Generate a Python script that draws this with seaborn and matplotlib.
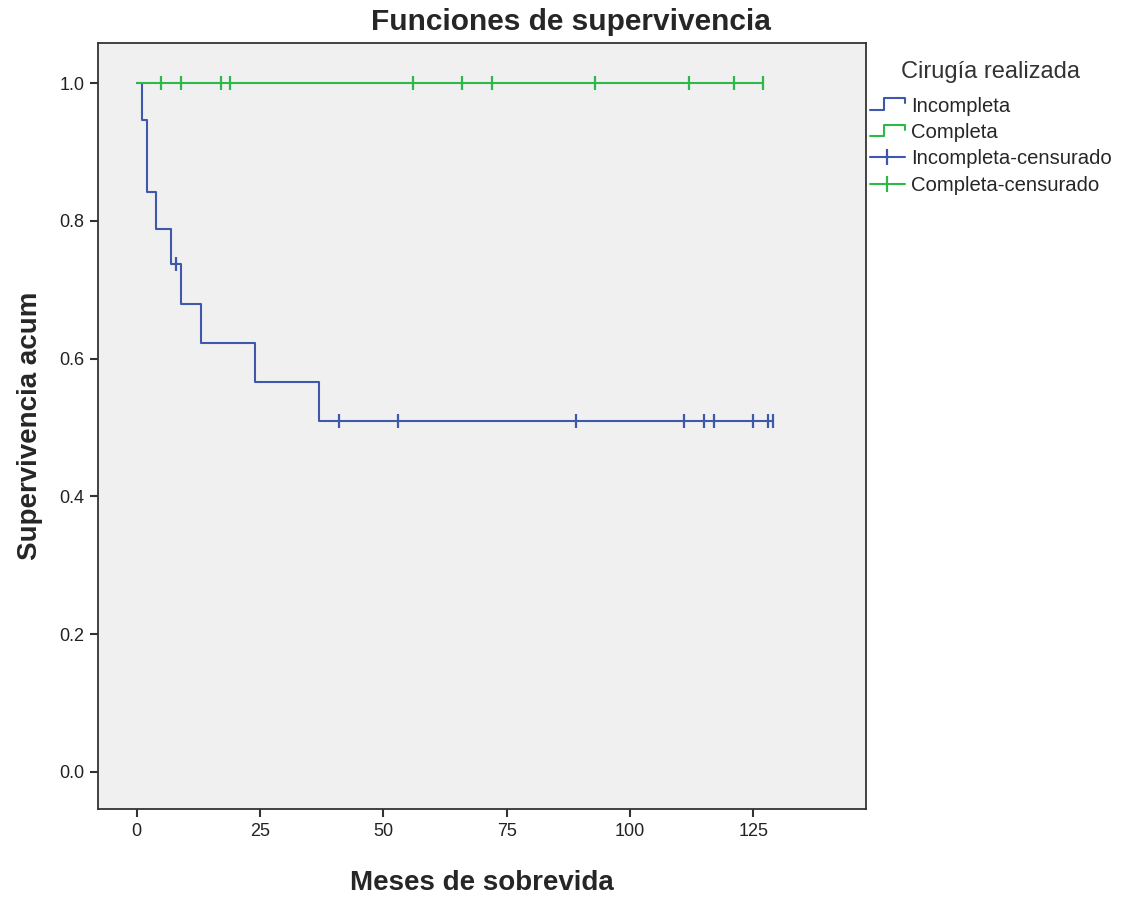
import numpy as np
import pandas as pd
import matplotlib
matplotlib.use('Agg')
import matplotlib.pyplot as plt
import seaborn as sns
from matplotlib.lines import Line2D
from matplotlib.legend_handler import HandlerBase

# Survival steps (Kaplan-Meier, by type of surgery)
inc_times = [0, 1, 2, 4, 7, 9, 13, 24, 37, 129]
inc_surv = [1.0, 0.947, 0.842, 0.789, 0.737, 0.680, 0.623, 0.566, 0.510, 0.510]
comp_times = [0, 127]
comp_surv = [1.0, 1.0]

# Censored observations
inc_cens = [8, 41, 53, 89, 111, 115, 117, 125, 128, 129]
comp_cens = [5, 9, 17, 19, 56, 66, 72, 93, 112, 121, 127]

groups = ['Incompleta', 'Completa']
colors = {'Incompleta': '#3e58ac', 'Completa': '#2eb848'}
x_ticks = [0, 25, 50, 75, 100, 125]
y_ticks = [0.0, 0.2, 0.4, 0.6, 0.8, 1.0]


def surv_at(times, surv, t):
    idx = np.searchsorted(times, t, side='right') - 1
    return np.asarray(surv)[idx]


curves = pd.concat([
    pd.DataFrame({'tiempo': inc_times, 'superv': inc_surv, 'grupo': 'Incompleta'}),
    pd.DataFrame({'tiempo': comp_times, 'superv': comp_surv, 'grupo': 'Completa'}),
], ignore_index=True)

cens = pd.concat([
    pd.DataFrame({'tiempo': inc_cens, 'superv': surv_at(inc_times, inc_surv, inc_cens),
                  'grupo': 'Incompleta'}),
    pd.DataFrame({'tiempo': comp_cens, 'superv': surv_at(comp_times, comp_surv, comp_cens),
                  'grupo': 'Completa'}),
], ignore_index=True)

sns.set_style('ticks')
plt.rcParams['font.family'] = ['Liberation Sans', 'DejaVu Sans']


class StepHandler(HandlerBase):
    # little step symbol like the SPSS legend
    def create_artists(self, legend, orig_handle, xdescent, ydescent,
                       width, height, fontsize, trans):
        x0, y0 = -xdescent, -ydescent
        xs = [x0, x0 + 0.4 * width, x0 + 0.4 * width, x0 + width, x0 + width]
        ys = [y0 + 0.15 * height, y0 + 0.15 * height, y0 + 0.95 * height,
              y0 + 0.95 * height, y0 + 0.6 * height]
        ln = Line2D(xs, ys, color=orig_handle.get_color(),
                    lw=orig_handle.get_linewidth())
        ln.set_transform(trans)
        return [ln]


fig = plt.figure(figsize=(11.28, 8.98), dpi=100)
ax = fig.add_axes([0.0871, 0.0991, 0.6804, 0.8527])
ax.set_facecolor('#f0f0f0')

sns.lineplot(data=curves, x='tiempo', y='superv', hue='grupo', hue_order=groups,
             palette=colors, drawstyle='steps-post', estimator=None, sort=False,
             linewidth=1.5, legend=False, ax=ax)
for g in groups:
    sub = cens[cens['grupo'] == g]
    sns.scatterplot(x=sub['tiempo'], y=sub['superv'], marker='|', s=100,
                    color=colors[g], linewidth=1.6, legend=False, ax=ax, zorder=3)

ax.set_xlim(-7.8, 147.8)
ax.set_ylim(-0.054, 1.058)
ax.set_xticks(x_ticks)
ax.set_yticks(y_ticks)
ax.set_yticklabels([f'{v:.1f}' for v in y_ticks])
ax.tick_params(direction='out', length=6, width=1.5, color='#333333',
               labelsize=13, labelcolor='#222222', pad=4)
for s in ax.spines.values():
    s.set_visible(True)
    s.set_color('#333333')
    s.set_linewidth(1.3)

ax.set_xlabel('Meses de sobrevida', fontsize=20, fontweight='bold', labelpad=22)
ax.set_ylabel('Supervivencia acum', fontsize=20, fontweight='bold', labelpad=12)
fig.text(0.506, 0.976, 'Funciones de supervivencia', fontsize=21.5,
         fontweight='bold', ha='center', va='center')

h_inc = Line2D([], [], color=colors['Incompleta'], lw=1.5)
h_comp = Line2D([], [], color=colors['Completa'], lw=1.5)
h_inc_c = Line2D([], [], color=colors['Incompleta'], lw=1.5, marker='|',
                 markersize=11, markeredgewidth=1.6)
h_comp_c = Line2D([], [], color=colors['Completa'], lw=1.5, marker='|',
                  markersize=11, markeredgewidth=1.6)
leg = fig.legend([h_inc, h_comp, h_inc_c, h_comp_c],
                 ['Incompleta', 'Completa', 'Incompleta-censurado', 'Completa-censurado'],
                 handler_map={h_inc: StepHandler(), h_comp: StepHandler()},
                 loc='upper left', bbox_to_anchor=(870 / 1128, 1 - 61 / 898),
                 title='Cirugía realizada', title_fontsize=17, fontsize=14.6,
                 frameon=False, borderpad=0, borderaxespad=0, handlelength=1.72,
                 handletextpad=0.3, labelspacing=0.36, numpoints=1)
leg.get_title().set_color('#333333')
leg._legend_box.sep = 10

fig.savefig('out.png', dpi=100)
